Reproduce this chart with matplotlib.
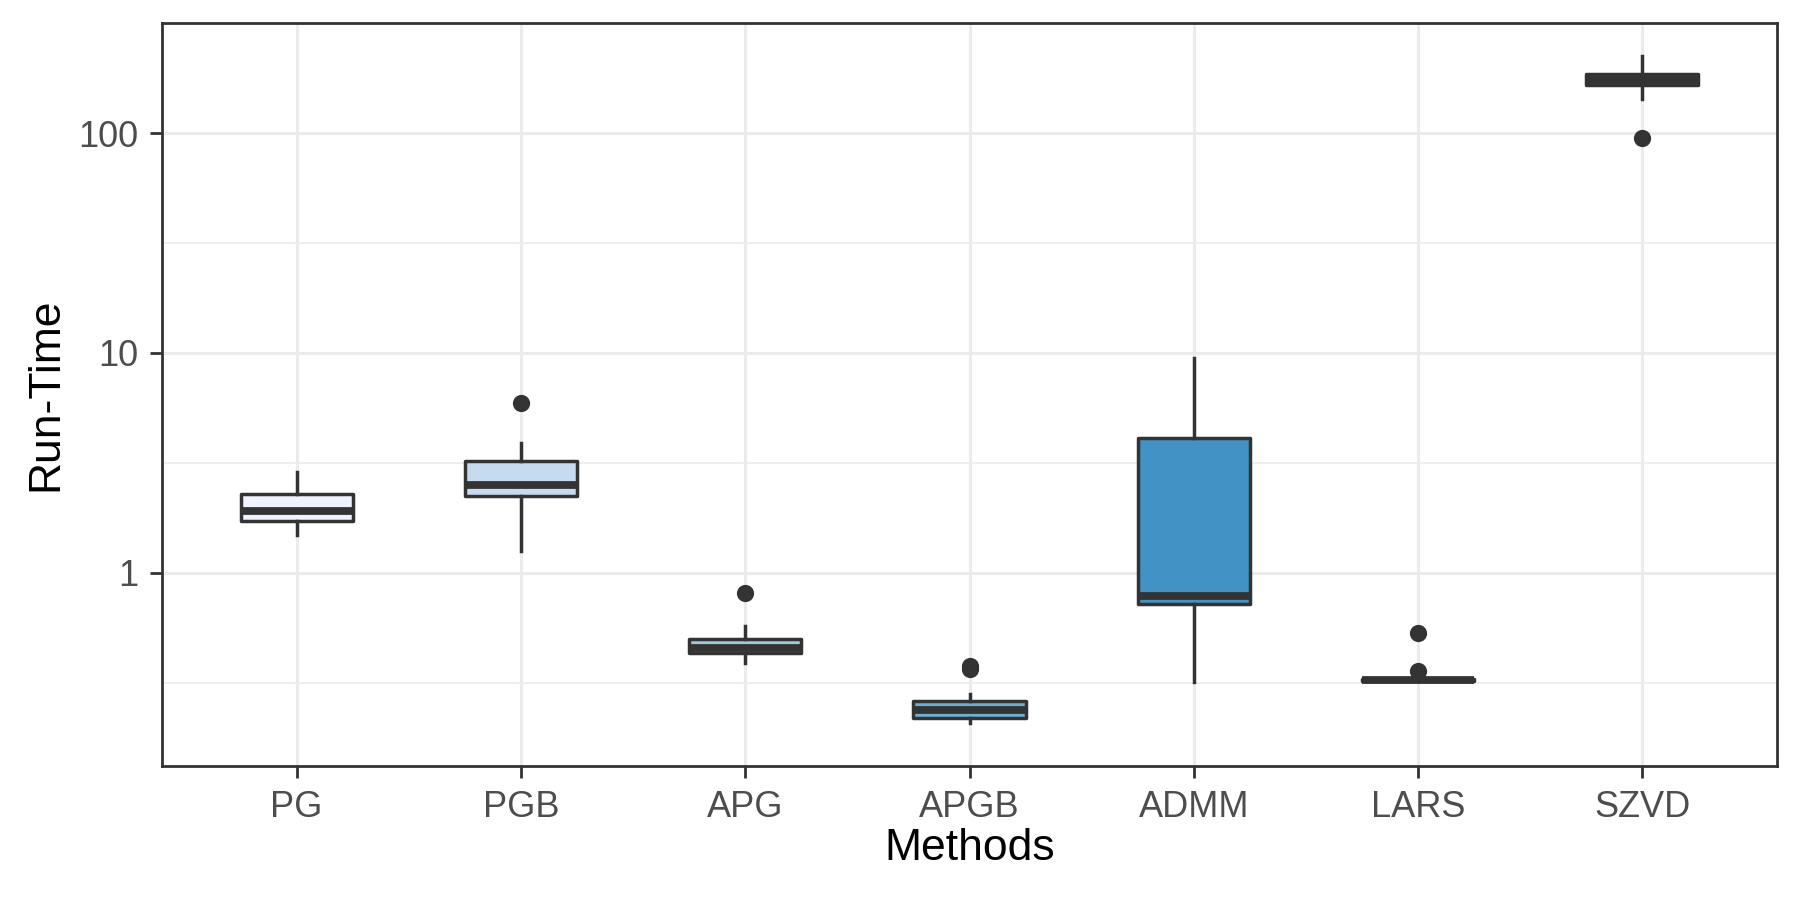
import matplotlib
matplotlib.use("Agg")
import matplotlib.pyplot as plt
from matplotlib.ticker import FixedLocator, FixedFormatter, NullFormatter

# ---- data ----
methods = ["PG", "PGB", "APG", "APGB", "ADMM", "LARS", "SZVD"]
q1 = [1.716, 2.23, 0.429, 0.219, 0.719, 0.322, 165.5]
median = [1.913, 2.51, 0.456, 0.238, 0.785, 0.325, 175.4]
q3 = [2.277, 3.21, 0.500, 0.261, 4.10, 0.328, 186.0]
whisker_low = [1.484, 1.26, 0.389, 0.2075, 0.317, 0.320, 143.3]
whisker_high = [2.873, 3.88, 0.572, 0.281, 9.46, 0.330, 224.8]
outliers = [[], [5.94], [0.811], [0.377, 0.366], [], [0.530, 0.358], [95.5]]
fill_colors = ["#EFF3FF", "#C6DBEF", "#9ECAE1", "#6BAED6", "#4292C6", "#2171B5", "#084594"]

y_major = [1, 10, 100]
y_major_labels = ["1", "10", "100"]
y_minor = [10 ** -0.5, 10 ** 0.5, 10 ** 1.5, 10 ** 2.5]
y_limits = (0.1318, 316.7)

plt.rcParams["font.family"] = ["Liberation Sans", "DejaVu Sans"]

fig = plt.figure(figsize=(9, 4.5), dpi=200)
ax = fig.add_axes([162 / 1800, 1 - 766 / 900, (1777 - 162) / 1800, (766 - 23.3) / 900])

dark = "#333333"
stats = []
for i, m in enumerate(methods):
    stats.append(dict(label=m, q1=q1[i], med=median[i], q3=q3[i],
                      whislo=whisker_low[i], whishi=whisker_high[i],
                      fliers=outliers[i]))

positions = list(range(1, len(methods) + 1))
bp = ax.bxp(stats, positions=positions, widths=0.5, patch_artist=True,
            showcaps=False, showfliers=True,
            boxprops=dict(edgecolor=dark, linewidth=1.25),
            whiskerprops=dict(color=dark, linewidth=1.25),
            medianprops=dict(color=dark, linewidth=2.8, solid_capstyle="butt"),
            flierprops=dict(marker="o", markerfacecolor=dark, markeredgecolor=dark,
                            markersize=5.2, linestyle="none"),
            zorder=3)
for patch, c in zip(bp["boxes"], fill_colors):
    patch.set_facecolor(c)
    patch.set_joinstyle("round")

ax.set_yscale("log")
ax.set_ylim(*y_limits)
ax.set_xlim(0.4, len(methods) + 0.6)
ax.yaxis.set_major_locator(FixedLocator(y_major))
ax.yaxis.set_major_formatter(FixedFormatter(y_major_labels))
ax.yaxis.set_minor_locator(FixedLocator(y_minor))
ax.yaxis.set_minor_formatter(NullFormatter())
ax.set_xticks(positions)
ax.set_xticklabels(methods)

ax.set_axisbelow(True)
ax.grid(True, which="major", color="#EBEBEB", linewidth=1.1)
ax.grid(True, which="minor", axis="y", color="#EBEBEB", linewidth=0.6)

for s in ax.spines.values():
    s.set_color(dark)
    s.set_linewidth(1.0)

ax.tick_params(axis="both", which="major", length=4.3, width=1.0, color=dark,
               labelsize=13, labelcolor="#4D4D4D", pad=4.3)
ax.tick_params(axis="y", which="minor", length=0)

ax.set_xlabel("Methods", fontsize=16, color="black")
ax.set_ylabel("Run-Time", fontsize=16, color="black")
ax.xaxis.set_label_coords(0.5, -0.083)
ax.yaxis.set_label_coords(-0.0594, 0.5)

fig.savefig("out.png", dpi=200, facecolor="white")
